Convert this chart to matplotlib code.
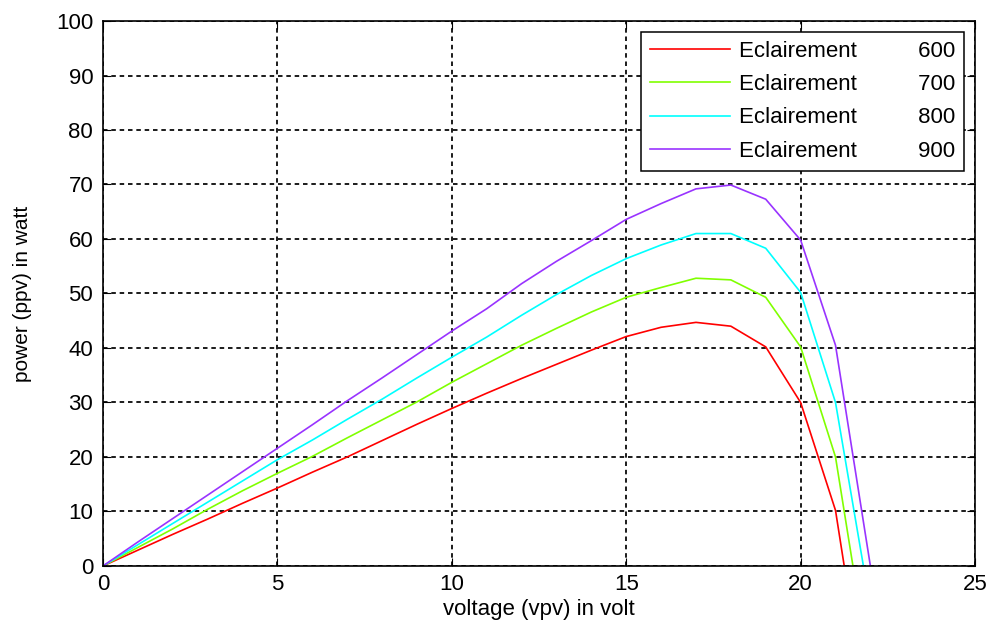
import matplotlib.pyplot as plt
import numpy as np

plt.rcParams['font.family'] = ['Liberation Sans', 'DejaVu Sans']

# P-V curves of the panel for four irradiance levels (W/m2)
volts_600 = [0, 1, 2, 3, 4, 5, 6, 7, 8, 9, 10, 11, 12, 13, 14, 15, 16, 17, 18, 19, 20, 21, 21.25]
power_600 = [0, 2.9, 5.8, 8.6, 11.5, 14.3, 17.2, 20.0, 23.0, 26.0, 28.9, 31.7, 34.4, 37.0, 39.6, 42.1,
             43.8, 44.7, 44.0, 40.2, 30.0, 10.2, 0]

volts_700 = [0, 1, 2, 3, 4, 5, 6, 7, 8, 9, 10, 11, 12, 13, 14, 15, 16, 17, 18, 19, 20, 21, 21.5]
power_700 = [0, 3.4, 6.8, 10.4, 13.8, 17.0, 20.1, 23.5, 26.8, 30.1, 33.7, 37.1, 40.5, 43.6, 46.6, 49.3,
             51.1, 52.8, 52.5, 49.3, 40.2, 20.0, 0]

volts_800 = [0, 1, 2, 3, 4, 5, 6, 7, 8, 9, 10, 11, 12, 13, 14, 15, 16, 17, 18, 19, 20, 21, 21.8]
power_800 = [0, 3.9, 7.8, 11.7, 15.6, 19.5, 23.1, 26.9, 30.6, 34.5, 38.3, 42.0, 46.0, 49.8, 53.3, 56.4,
             58.9, 61.0, 61.0, 58.3, 50.2, 30.0, 0]

volts_900 = [0, 1, 2, 3, 4, 5, 6, 7, 8, 9, 10, 11, 12, 13, 14, 15, 16, 17, 18, 19, 20, 21, 22]
power_900 = [0, 4.4, 8.7, 13.0, 17.3, 21.6, 25.9, 30.3, 34.5, 38.8, 43.1, 47.2, 51.8, 55.9, 59.7, 63.6,
             66.5, 69.2, 69.9, 67.3, 59.8, 40.5, 0]

labels = ['600', '700', '800', '900']
colors = ['#ff0000', '#80ff00', '#00ffff', '#9933ff']


def main():
    fig = plt.figure(figsize=(9.92, 6.29), dpi=100)
    ax = fig.add_axes([0.1038, 0.1002, 0.8791, 0.8664])

    curves = [(volts_600, power_600), (volts_700, power_700),
              (volts_800, power_800), (volts_900, power_900)]
    for (v, p), lab, c in zip(curves, labels, colors):
        ax.plot(v, p, color=c, linewidth=1.2, label='Eclairement' + ' ' * 10 + lab)

    ax.set_xlim(0, 25)
    ax.set_ylim(0, 100)
    ax.set_xticks(np.arange(0, 26, 5))
    ax.set_yticks(np.arange(0, 101, 10))
    ax.grid(True, color='black', linestyle=(0, (2.6, 2.2)), linewidth=1.25)
    ax.tick_params(direction='in', top=True, right=True, length=6, labelsize=16)
    ax.tick_params(axis='x', pad=6)
    ax.tick_params(axis='y', pad=7)
    for s in ax.spines.values():
        s.set_linewidth(1.2)

    ax.set_xlabel('voltage (vpv) in volt', fontsize=16, labelpad=3)
    ax.set_ylabel('power (ppv) in watt', fontsize=15, labelpad=17)

    leg = ax.legend(loc='upper right', fontsize=16, fancybox=False, framealpha=1,
                    edgecolor='black', handlelength=3.6, handletextpad=0.4,
                    labelspacing=0.55, borderpad=0.4)
    leg.get_frame().set_linewidth(1.1)

    plt.savefig('out.png', dpi=100)


if __name__ == "__main__":
    main()
